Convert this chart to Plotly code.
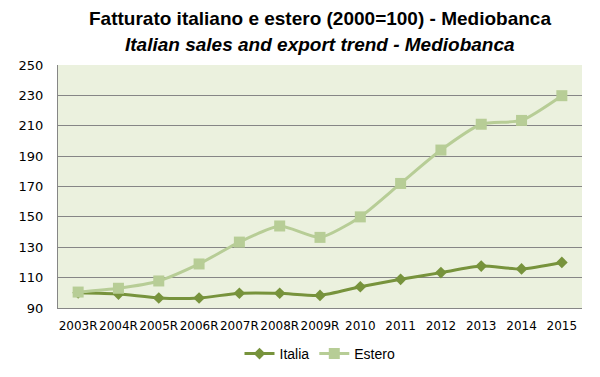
import plotly.graph_objects as go

years = ["2003R", "2004R", "2005R", "2006R", "2007R", "2008R", "2009R",
         "2010", "2011", "2012", "2013", "2014", "2015"]
italia = [100, 99.2, 96.6, 96.6, 99.7, 99.7, 98.3, 104, 108.9, 113.3, 117.6, 115.7, 120]
estero = [100.5, 103, 107.8, 119, 133.4, 144, 136.5, 150, 172, 194, 211, 213.5, 229.8]

W, H = 600, 377
ML, MR, MT, MB = 58, 18, 65, 69
plot_h = H - MT - MB

fig = go.Figure()
fig.add_trace(go.Scatter(
    x=years, y=italia, name="Italia", mode="lines+markers",
    line=dict(color="#77933C", width=3, shape="spline", smoothing=0.6),
    marker=dict(symbol="diamond", size=9, color="#77933C"),
))
fig.add_trace(go.Scatter(
    x=years, y=estero, name="Estero", mode="lines+markers",
    line=dict(color="#B7CD96", width=3, shape="spline", smoothing=0.6),
    marker=dict(symbol="square", size=11, color="#B7CD96"),
))

title_font = dict(family="Liberation Sans Narrow, Arial Narrow, Liberation Sans, sans-serif", size=19, color="#000")
fig.update_layout(
    width=W, height=H,
    margin=dict(l=ML, r=MR, t=MT, b=MB, autoexpand=False),
    paper_bgcolor="white",
    plot_bgcolor="#EBF1DE",
    showlegend=True,
    legend=dict(orientation="h", x=0.5, xanchor="center",
                y=-(354 - (H - MB)) / plot_h, yanchor="middle",
                font=dict(family="Liberation Sans, sans-serif", size=14, color="#000"),
                itemwidth=30),
    annotations=[
        dict(text="<b>Fatturato italiano e estero (2000=100) - Mediobanca</b>",
             x=0.5, y=(H - MB - 18) / plot_h, xref="paper", yref="paper",
             showarrow=False, yanchor="middle", font=title_font),
        dict(text="<b><i>Italian sales and export trend - Mediobanca</i></b>",
             x=0.5, y=(H - MB - 44) / plot_h, xref="paper", yref="paper",
             showarrow=False, yanchor="middle", font=title_font),
    ],
)

fig.update_xaxes(
    showgrid=False, showline=True, linecolor="#868686", linewidth=1,
    ticks="", tickangle=0, automargin=False, ticklabelstandoff=7,
    tickfont=dict(family="DejaVu Sans, Verdana, sans-serif", size=12, color="#000"),
    range=[-0.5, 12.5],
)
fig.update_yaxes(
    range=[90, 250], dtick=20, tick0=90,
    showgrid=True, gridcolor="#868686", gridwidth=1,
    showline=True, linecolor="#868686", linewidth=1,
    ticks="", automargin=False, ticklabelstandoff=11,
    tickfont=dict(family="DejaVu Sans, Verdana, sans-serif", size=13, color="#000"),
    zeroline=False,
)

fig.write_html("out.html", config={"displayModeBar": False},
               post_script="document.body.style.margin='0px';document.body.style.padding='0px';")
